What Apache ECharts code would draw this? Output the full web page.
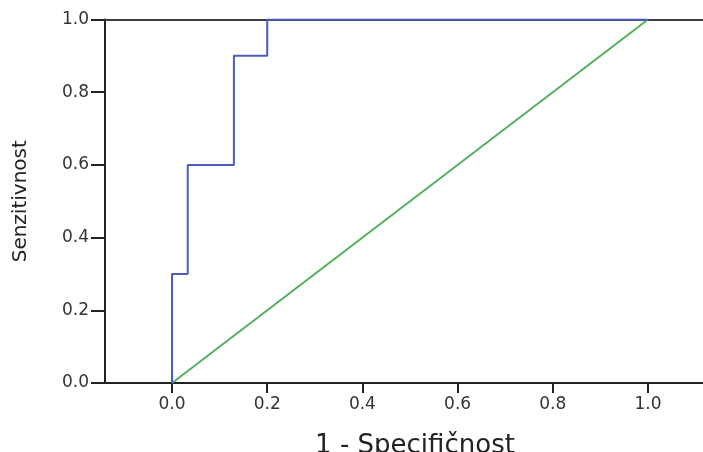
<!DOCTYPE html>
<html>
<head>
<meta charset="utf-8">
<script src="https://cdn.jsdelivr.net/npm/echarts@6/dist/echarts.min.js"></script>
<style>html,body{margin:0;padding:0;background:#fff;}#c{width:703px;height:452px;}</style>
</head>
<body>
<div id="c"></div>
<script>
// ROC curve points (1 - specificity, sensitivity)
const rocFpr = [0, 0, 0.033, 0.033, 0.13, 0.13, 0.2, 0.2, 1.0];
const rocTpr = [0, 0.3, 0.3, 0.6, 0.6, 0.9, 0.9, 1.0, 1.0];
// reference diagonal
const refFpr = [0, 1];
const refTpr = [0, 1];
const xTicks = [0, 0.2, 0.4, 0.6, 0.8, 1.0];
const xTitle = '1 - Specifičnost';
const yTitle = 'Senzitivnost';

const chart = echarts.init(document.getElementById('c'), null, {renderer: 'canvas'});
const font = 'DejaVu Sans';
chart.setOption({
  animation: false,
  backgroundColor: '#ffffff',
  grid: {left: 105, right: 0, top: 19.5, bottom: 69, containLabel: false, outerBoundsMode: 'none'},
  xAxis: [{
    type: 'value', min: -0.1408, max: 1.1155,
    name: xTitle, nameLocation: 'middle', nameGap: 50,
    nameTextStyle: {fontFamily: font, fontSize: 26, color: '#222', padding: [0, 0, 0, 22]},
    axisLine: {show: true, onZero: false, lineStyle: {color: '#222', width: 2}},
    axisTick: {show: true, length: 10, customValues: xTicks, lineStyle: {color: '#222', width: 2}},
    axisLabel: {customValues: xTicks, fontFamily: font, fontSize: 17, color: '#333', margin: 13,
      formatter: v => v.toFixed(1)},
    splitLine: {show: false}
  }, {
    type: 'value', position: 'top', min: -0.1408, max: 1.1155,
    axisLine: {show: true, onZero: false, lineStyle: {color: '#3c3c48', width: 2}},
    axisTick: {show: false}, axisLabel: {show: false}, splitLine: {show: false}
  }],
  yAxis: {
    type: 'value', min: 0, max: 1, interval: 0.2,
    name: yTitle, nameLocation: 'middle', nameGap: 74,
    nameTextStyle: {fontFamily: font, fontSize: 20, color: '#222'},
    axisLine: {show: true, onZero: false, lineStyle: {color: '#222', width: 2}},
    axisTick: {show: true, length: 14, lineStyle: {color: '#222', width: 2}},
    axisLabel: {fontFamily: font, fontSize: 17, color: '#333', margin: 16,
      formatter: v => v.toFixed(1)},
    splitLine: {show: false}
  },
  series: [{
    type: 'line', xAxisIndex: 0, data: refFpr.map((x, i) => [x, refTpr[i]]),
    symbol: 'none', lineStyle: {color: '#52b05a', width: 2}, z: 2
  }, {
    type: 'line', xAxisIndex: 0, data: rocFpr.map((x, i) => [x, rocTpr[i]]),
    symbol: 'none', lineStyle: {color: '#4d5cc0', width: 2}, z: 3
  }]
});
</script>
</body>
</html>
